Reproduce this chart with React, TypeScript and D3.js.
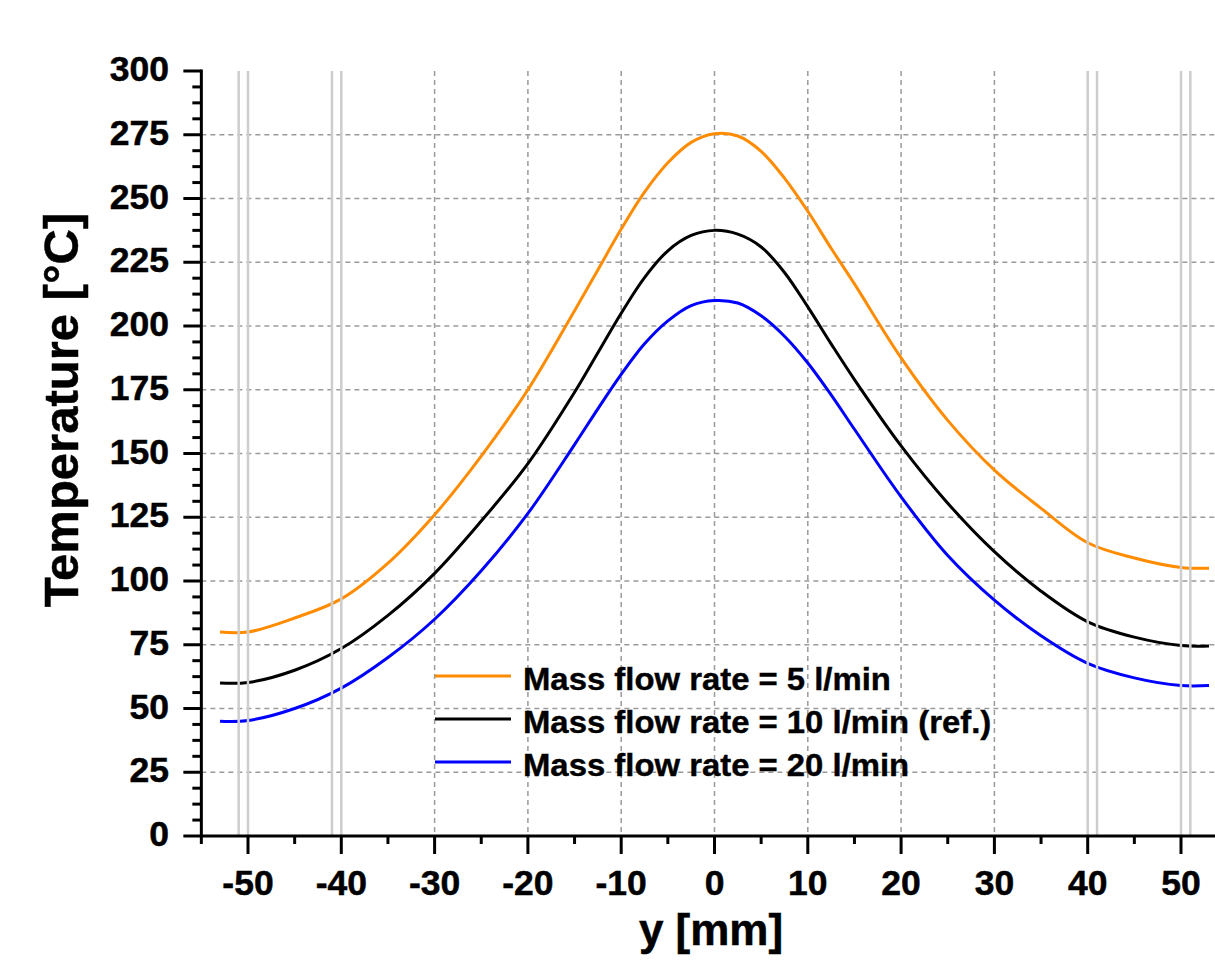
import React from "react";
import * as d3 from "d3";

const xValues = [-53, -50, -45, -40, -35, -30, -25, -20, -15, -12.5, -10, -7.5, -5, -2.5, 0, 2.5, 5, 7.5, 10, 12.5, 15, 20, 25, 30, 35, 40, 45, 50, 53];
const flow5 = [80, 80, 85.5, 93, 107, 126, 149, 175, 206, 222, 238, 252.5, 264, 272, 275.4, 274.5, 268.5, 258, 245, 230.5, 216.5, 187.5, 163, 143.5, 128.5, 115, 109, 105.3, 105];
const flow10 = [60, 60.2, 65, 73.5, 86.5, 103, 123.5, 146, 174, 189.5, 205, 219, 229.5, 235.5, 237.5, 236, 231, 221, 207.5, 193, 179, 153, 130.5, 111.5, 96, 84, 78, 74.7, 74.5];
const flow20 = [45, 45.3, 50, 58, 70, 85, 104, 126.5, 153.5, 167.5, 181, 193, 202, 208, 210, 209, 204, 196, 185.5, 173, 159.5, 133, 110, 92.5, 78.5, 67.7, 62, 59, 59];

const seriesNames = ["Mass flow rate = 5 l/min", "Mass flow rate = 10 l/min (ref.)", "Mass flow rate = 20 l/min"];
const seriesColors = ["#FF8C00", "#000000", "#0000FF"];
const seriesValues = [flow5, flow10, flow20];

const xMajorTicks = [-50, -40, -30, -20, -10, 0, 10, 20, 30, 40, 50];
const xMinorTicks = [-55, -45, -35, -25, -15, -5, 5, 15, 25, 35, 45];
const yMajorTicks = [0, 25, 50, 75, 100, 125, 150, 175, 200, 225, 250, 275, 300];
const yGridTicks = [25, 50, 75, 100, 125, 150, 175, 200, 225, 250, 275];
const markerLines = [-51, -50, -41, -40, 40, 41, 50, 51];

const xTitle = "y [mm]";
const yTitle = "Temperature [°C]";

export default function App() {
  const W = 1215, H = 965;
  const x = d3.scaleLinear().domain([-50, 50]).range([248, 1181]);
  const y = d3.scaleLinear().domain([0, 300]).range([836, 71]);
  const x0 = x(-55);
  const y0 = y(0);
  const yTop = y(300);
  const font = "'Liberation Sans', Arial, sans-serif";

  const line = d3
    .line<number>()
    .x((_, i) => x(xValues[i]))
    .y((d) => y(d))
    .curve(d3.curveCatmullRom.alpha(0.5));

  const yMinor: number[] = [];
  for (let v = 0; v <= 300 + 1e-6; v += 6.25) {
    if (Math.abs(v / 25 - Math.round(v / 25)) > 1e-6) yMinor.push(v);
  }

  const legendX0 = 435, legendX1 = 511, legendTextX = 523, legendY = 676, legendStep = 43;

  return (
    <svg
      width={W}
      height={H}
      style={{ position: "absolute", left: 0, top: 0, background: "#fff" }}
      fontFamily={font}
    >
      <rect x={0} y={0} width={W} height={H} fill="#fff" />
      {yGridTicks.map((t) => (
        <line key={"gy" + t} x1={x0} x2={W} y1={y(t)} y2={y(t)} stroke="#9a9a9a" strokeWidth={1.5} strokeDasharray="5,4" />
      ))}
      {xMajorTicks.map((t) => (
        <line key={"gx" + t} x1={x(t)} x2={x(t)} y1={yTop} y2={y0} stroke="#9a9a9a" strokeWidth={1.5} strokeDasharray="5,4" />
      ))}

      {seriesValues.map((vals, i) => (
        <path key={"s" + i} d={line(vals) || ""} fill="none" stroke={seriesColors[i]} strokeWidth={3} />
      ))}

      {markerLines.map((t) => (
        <line key={"m" + t} x1={x(t)} x2={x(t)} y1={yTop} y2={y0} stroke="#cdcdcd" strokeWidth={2.5} />
      ))}

      {seriesNames.map((name, i) => (
        <g key={"l" + i}>
          <line x1={legendX0} x2={legendX1} y1={legendY + i * legendStep} y2={legendY + i * legendStep} stroke={seriesColors[i]} strokeWidth={3} />
          <text
            transform={`translate(${legendTextX},${legendY + 14 + i * legendStep}) scale(1.06,1)`}
            fontSize={31}
            fontWeight="bold"
            fill="#000"
            stroke="#000"
            strokeWidth={0.4}
          >
            {name}
          </text>
        </g>
      ))}

      <line x1={x0} x2={W} y1={y0} y2={y0} stroke="#000" strokeWidth={3} />
      <line x1={x0} x2={x0} y1={yTop - 1.5} y2={y0 + 1.5} stroke="#000" strokeWidth={3} />
      {xMajorTicks.map((t) => (
        <g key={"xt" + t}>
          <line x1={x(t)} x2={x(t)} y1={y0} y2={y0 + 18} stroke="#000" strokeWidth={3} />
          <text x={x(t)} y={y0 + 59} textAnchor="middle" fontSize={35.5} fontWeight="bold" fill="#000" stroke="#000" strokeWidth={0.5}>
            {t}
          </text>
        </g>
      ))}
      {xMinorTicks.map((t) => (
        <line key={"xm" + t} x1={x(t)} x2={x(t)} y1={y0} y2={y0 + 8} stroke="#000" strokeWidth={3} />
      ))}
      {yMajorTicks.map((t) => (
        <g key={"yt" + t}>
          <line x1={x0 - 18} x2={x0} y1={y(t)} y2={y(t)} stroke="#000" strokeWidth={3} />
          <text x={169} y={y(t) + 10} textAnchor="end" fontSize={35.5} fontWeight="bold" fill="#000" stroke="#000" strokeWidth={0.5}>
            {t}
          </text>
        </g>
      ))}
      {yMinor.map((t) => (
        <line key={"ym" + t} x1={x0 - 9} x2={x0} y1={y(t)} y2={y(t)} stroke="#000" strokeWidth={3} />
      ))}

      <text x={711} y={945} textAnchor="middle" fontSize={44} fontWeight="bold" fill="#000" stroke="#000" strokeWidth={0.5}>
        {xTitle}
      </text>
      <text
        transform={`translate(78,410) rotate(-90)`}
        textAnchor="middle"
        fontSize={49}
        fontWeight="bold"
        fill="#000"
        stroke="#000"
        strokeWidth={0.5}
      >
        {yTitle}
      </text>
    </svg>
  );
}
